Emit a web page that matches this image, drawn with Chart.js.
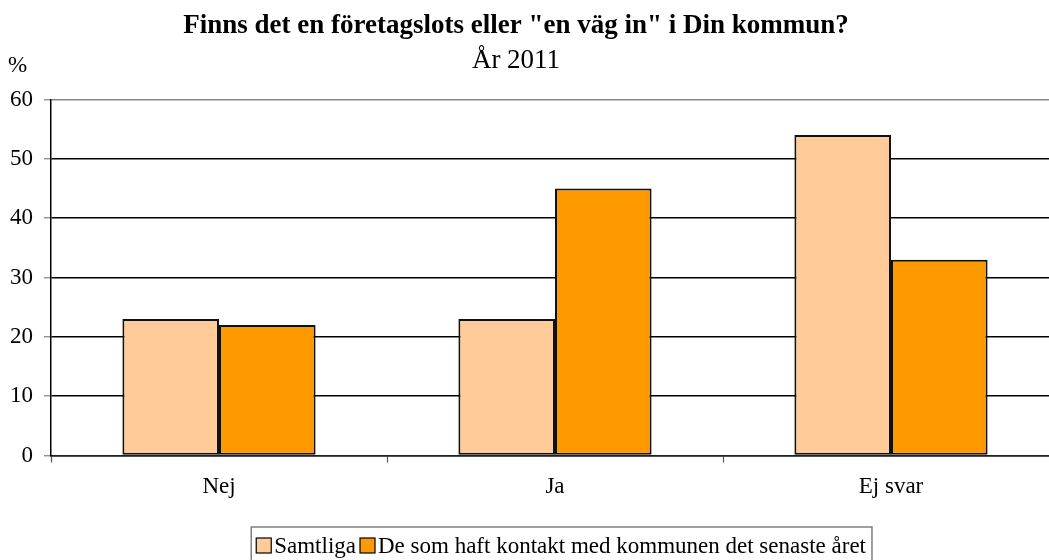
<!DOCTYPE html>
<html>
<head>
<meta charset="utf-8">
<script src="https://cdn.jsdelivr.net/npm/chart.js@4.4.0/dist/chart.umd.min.js"></script>
<style>
  html, body { margin: 0; padding: 0; background: #fff; overflow: hidden; }
  #wrap { width: 1049px; height: 560px; overflow: hidden; position: relative; }
  canvas { display: block; }
</style>
</head>
<body>
<div id="wrap"><canvas id="chart" width="1070" height="560"></canvas></div>
<script>
const titleText = 'Finns det en företagslots eller "en väg in" i Din kommun?';
const subtitleText = 'År 2011';
const unitText = '%';
const categories = ['Nej', 'Ja', 'Ej svar'];
const seriesNames = ['Samtliga', 'De som haft kontakt med kommunen det senaste året'];
const samtliga = [23, 23, 54];
const kontakt = [22, 45, 33];
const yMin = 0;
const yMax = 60;
const yStep = 10;

const serif = "'Liberation Serif', 'Times New Roman', serif";

// title, subtitle, % label and the boxed legend are drawn by hand
const decorations = {
  id: 'decorations',
  afterDraw(chart) {
    const ctx = chart.ctx;
    ctx.save();
    ctx.fillStyle = '#000';
    ctx.textBaseline = 'alphabetic';

    ctx.textAlign = 'center';
    ctx.font = 'bold 27px ' + serif;
    ctx.fillText(titleText, 516, 33);
    ctx.font = '27px ' + serif;
    ctx.fillText(subtitleText, 516, 68);

    ctx.textAlign = 'left';
    ctx.font = '23px ' + serif;
    ctx.fillText(unitText, 8, 72);

    // legend
    const ds = chart.data.datasets;
    const box = 15;
    const w1 = ctx.measureText(ds[0].label).width;
    const w2 = ctx.measureText(ds[1].label).width;
    const text2X = 378;
    const box2X = text2X - 3 - box;
    const text1X = box2X - 4 - w1;
    const box1X = text1X - 3 - box;
    const left = box1X - 5;
    const right = text2X + w2 + 6;

    ctx.strokeStyle = '#808080';
    ctx.lineWidth = 1.5;
    ctx.strokeRect(left, 527, right - left, 50);

    const items = [[box1X, text1X, ds[0]], [box2X, text2X, ds[1]]];
    items.forEach(([bx, tx, d]) => {
      ctx.fillStyle = d.backgroundColor;
      ctx.fillRect(bx, 538, box, box);
      ctx.strokeStyle = '#000';
      ctx.lineWidth = 1.2;
      ctx.strokeRect(bx, 538, box, box);
      ctx.fillStyle = '#000';
      ctx.fillText(d.label, tx, 553);
    });
    ctx.restore();
  }
};

new Chart(document.getElementById('chart'), {
  type: 'bar',
  data: {
    labels: categories,
    datasets: [
      {
        label: seriesNames[0],
        data: samtliga,
        backgroundColor: '#FFCC99',
        borderColor: '#111',
        borderWidth: 2,
        borderSkipped: false
      },
      {
        label: seriesNames[1],
        data: kontakt,
        backgroundColor: '#FF9900',
        borderColor: '#111',
        borderWidth: 2,
        borderSkipped: false
      }
    ]
  },
  options: {
    responsive: false,
    animation: false,
    devicePixelRatio: 1,
    layout: { padding: { top: 99.5, right: 11, bottom: 0, left: 0 } },
    datasets: { bar: { categoryPercentage: 0.575, barPercentage: 1 } },
    plugins: {
      legend: { display: false },
      title: { display: false },
      tooltip: { enabled: false }
    },
    scales: {
      x: {
        afterFit(scale) { scale.height = 104.5; },
        grid: {
          offset: true,
          drawOnChartArea: false,
          drawTicks: true,
          tickLength: 7,
          tickColor: '#555',
          tickWidth: 1.2
        },
        border: { color: '#222', width: 1.5 },
        ticks: {
          color: '#000',
          padding: 11,
          font: { family: serif, size: 23 }
        }
      },
      y: {
        min: yMin,
        max: yMax,
        afterFit(scale) { scale.width = 51; },
        grid: {
          color: (c) => (c.tick && c.tick.value === yMax ? '#888' : '#000'),
          lineWidth: 1.5,
          drawTicks: true,
          tickLength: 7,
          tickColor: '#808080',
          tickWidth: 1.2
        },
        border: { color: '#000', width: 1.5 },
        ticks: {
          stepSize: yStep,
          color: '#000',
          padding: 11,
          font: { family: serif, size: 23 }
        }
      }
    }
  },
  plugins: [decorations]
});
</script>
</body>
</html>
